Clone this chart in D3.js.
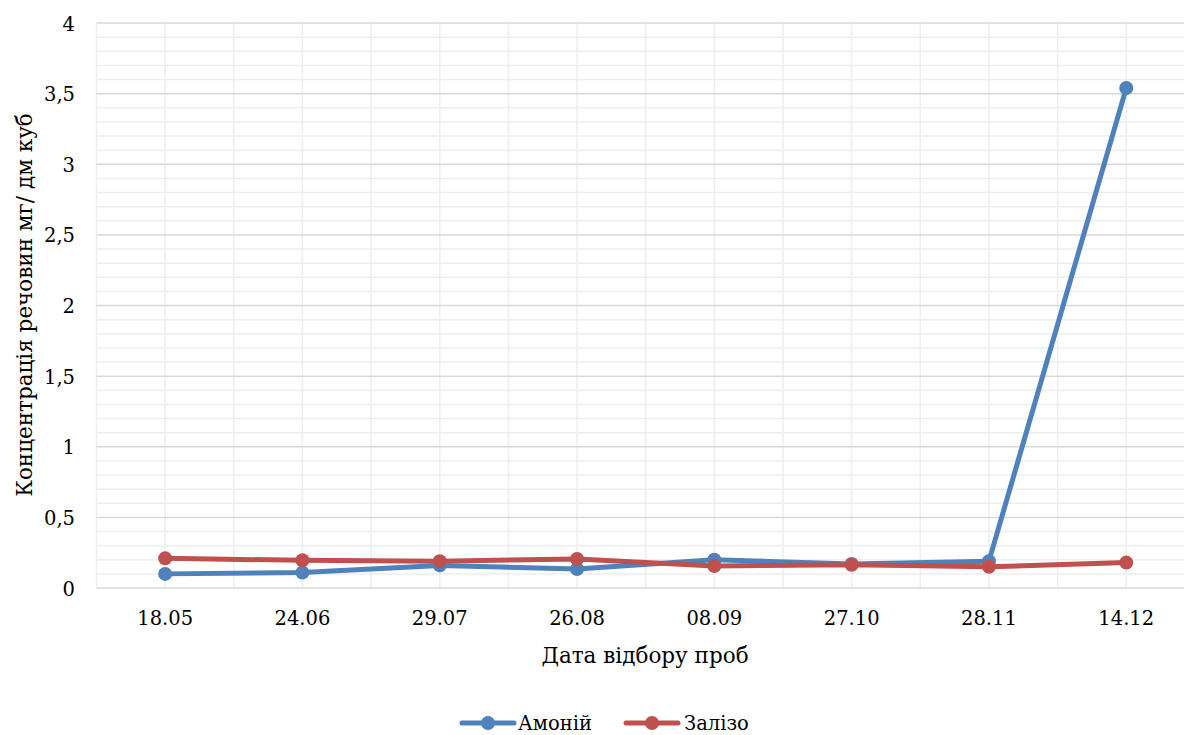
<!DOCTYPE html>
<html>
<head>
<meta charset="utf-8">
<script src="https://cdn.jsdelivr.net/npm/d3@7"></script>
<style>
  body { margin: 0; background: #fff; }
  svg { display: block; }
  svg text { font-family: "DejaVu Serif", serif; fill: #000; }
</style>
</head>
<body>
<svg id="chart" width="1184" height="735"></svg>
<script>
// Sampling dates
const dates = ["18.05", "24.06", "29.07", "26.08", "08.09", "27.10", "28.11", "14.12"];
// Concentrations, mg/dm³
const ammonium = [0.10, 0.11, 0.16, 0.135, 0.20, 0.17, 0.19, 3.54];
const iron = [0.21, 0.196, 0.19, 0.205, 0.155, 0.165, 0.15, 0.18];
const seriesNames = ["Амоній", "Залізо"];
const seriesColors = ["#4f81bd", "#c0504d"];
const yTicks = [0, 0.5, 1, 1.5, 2, 2.5, 3, 3.5, 4];

const svg = d3.select("#chart");
const plotLeft = 96.5, plotTop = 23, plotBottom = 588;
const step = 137.3;
const plotRight = plotLeft + step * dates.length;

const x = d3.scaleBand().domain(dates).range([plotLeft, plotRight]);
const xc = d => x(d) + x.bandwidth() / 2;
const y = d3.scaleLinear().domain([0, 4]).range([plotBottom, plotTop]);

const grid = svg.append("g");
// minor horizontal gridlines
grid.selectAll(".hmin").data(d3.range(0, 41).map(i => i / 10).filter(v => Math.round(v * 10) % 5 !== 0))
  .join("line")
  .attr("x1", plotLeft).attr("x2", plotRight)
  .attr("y1", d => y(d)).attr("y2", d => y(d))
  .attr("stroke", "#eeeeee").attr("stroke-width", 1.5);
// minor vertical gridlines at category centers and boundaries
const vpos = [];
dates.forEach(d => { vpos.push(x(d)); vpos.push(xc(d)); });
vpos.push(plotRight);
grid.selectAll(".vmin").data(vpos).join("line")
  .attr("x1", d => d).attr("x2", d => d)
  .attr("y1", plotTop).attr("y2", plotBottom)
  .attr("stroke", "#eeeeee").attr("stroke-width", 1.5);
// major horizontal gridlines
grid.selectAll(".hmaj").data(yTicks).join("line")
  .attr("x1", plotLeft).attr("x2", plotRight)
  .attr("y1", d => y(d)).attr("y2", d => y(d))
  .attr("stroke", "#d9d9d9").attr("stroke-width", 1.5);

// Y axis labels
const fmt = v => String(v).replace(".", ",");
const yAxis = d3.axisLeft(y).tickValues(yTicks).tickFormat(fmt).tickSize(0).tickPadding(0);
const ya = svg.append("g").attr("transform", `translate(75,0)`).call(yAxis);
ya.select(".domain").remove();
ya.attr("font-family", null);
ya.selectAll("text").attr("font-size", 19.5).attr("dy", "0.36em");

// X axis labels
const xAxis = d3.axisBottom(x).tickSize(0).tickPadding(0);
const xa = svg.append("g").attr("transform", `translate(0,624.5)`).call(xAxis);
xa.select(".domain").remove();
xa.attr("font-family", null);
xa.selectAll("text").attr("font-size", 19.5).attr("dy", "0");

// Axis titles
svg.append("text").attr("x", 645).attr("y", 663).attr("text-anchor", "middle")
  .attr("font-size", 21.5).text("Дата відбору проб");
svg.append("text").attr("transform", "translate(32,305) rotate(-90)").attr("text-anchor", "middle")
  .attr("font-size", 21.5).text("Концентрація речовин мг/ дм куб");

// Series
const line = d3.line().x((d, i) => xc(dates[i])).y(d => y(d));
[ammonium, iron].forEach((vals, k) => {
  const g = svg.append("g");
  g.append("path").datum(vals).attr("d", line)
    .attr("fill", "none").attr("stroke", seriesColors[k]).attr("stroke-width", 5)
    .attr("stroke-linejoin", "round").attr("stroke-linecap", "round");
  g.selectAll("circle").data(vals).join("circle")
    .attr("cx", (d, i) => xc(dates[i])).attr("cy", d => y(d)).attr("r", 7)
    .attr("fill", seriesColors[k]);
});

// Legend
const legendY = 723;
const legendItems = [{ x: 462, tx: 518 }, { x: 626, tx: 684 }];
seriesNames.forEach((name, k) => {
  const it = legendItems[k];
  const g = svg.append("g");
  g.append("line").attr("x1", it.x).attr("x2", it.x + 52).attr("y1", legendY).attr("y2", legendY)
    .attr("stroke", seriesColors[k]).attr("stroke-width", 5).attr("stroke-linecap", "round");
  g.append("circle").attr("cx", it.x + 26).attr("cy", legendY).attr("r", 7).attr("fill", seriesColors[k]);
  g.append("text").attr("x", it.tx).attr("y", legendY).attr("dy", "0.36em")
    .attr("font-size", 19.5).text(name);
});
</script>
</body>
</html>
